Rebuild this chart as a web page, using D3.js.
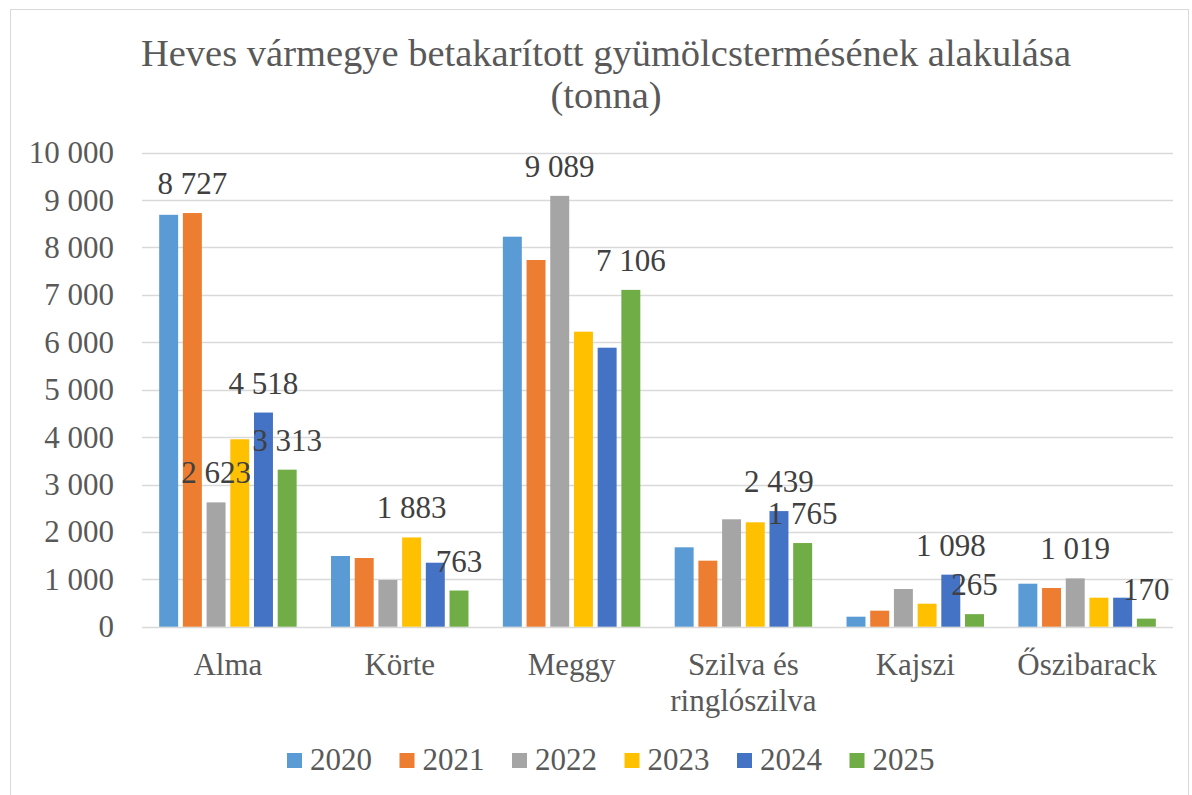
<!DOCTYPE html>
<meta charset="utf-8">
<head>
<script src="https://d3js.org/d3.v7.min.js"></script>
<style>
  body { margin: 0; background: #fff; }
</style>
</head>
<body>
<script>
"use strict";
// data
var categories = ["Alma", "Körte", "Meggy", "Szilva és ringlószilva", "Kajszi", "Őszibarack"];
var years = ["2020", "2021", "2022", "2023", "2024", "2025"];
var colors = ["#5B9BD5", "#ED7D31", "#A5A5A5", "#FFC000", "#4472C4", "#70AD47"];
var v2020 = [8690, 1492, 8228, 1675, 211, 907];
var v2021 = [8727, 1449, 7736, 1393, 338, 816];
var v2022 = [2623, 985, 9089, 2266, 795, 1019];
var v2023 = [3954, 1883, 6224, 2202, 485, 612];
var v2024 = [4518, 1350, 5886, 2439, 1098, 612];
var v2025 = [3313, 763, 7106, 1765, 265, 170];
// which bars carry a data label (category index, year index)
var labelled = [[0,1],[0,2],[0,4],[0,5],[1,3],[1,5],[2,2],[2,5],[3,4],[3,5],[4,4],[4,5],[5,2],[5,5]];
var yTicks = [0, 1000, 2000, 3000, 4000, 5000, 6000, 7000, 8000, 9000, 10000];
var title = ["Heves vármegye betakarított gyümölcstermésének alakulása", "(tonna)"];

var series = [v2020, v2021, v2022, v2023, v2024, v2025];

var width = 1192, height = 795;
var svg = d3.select("body").append("svg")
    .attr("width", width).attr("height", height)
    .attr("font-family", "'Liberation Serif', 'Times New Roman', Tinos, 'DejaVu Serif'");

svg.append("rect")
    .attr("x", 10.5).attr("y", 9.5)
    .attr("width", 1178).attr("height", 800)
    .attr("fill", "#fff").attr("stroke", "#d9d9d9");

var loc = d3.formatLocale({decimal: ",", thousands: "\u00a0", grouping: [3], currency: ["", ""]});
var fmt = loc.format(",d");

var y = d3.scaleLinear().domain([0, 10000]).range([626.7, 152.7]);
var x0 = d3.scaleBand().domain(categories).range([142, 1173]).paddingInner(0.2).paddingOuter(0.1);
var x1 = d3.scaleBand().domain(years).range([0, x0.bandwidth()]).paddingInner(0.2);

// gridlines
svg.append("g").selectAll("line").data(yTicks).enter().append("line")
    .attr("x1", 142).attr("x2", 1173)
    .attr("y1", d => Math.round(y(d)) + 0.5).attr("y2", d => Math.round(y(d)) + 0.5)
    .attr("stroke", "#d9d9d9").attr("stroke-width", 1.5);

// tick labels
svg.append("g").selectAll("text").data(yTicks).enter().append("text")
    .attr("x", 114).attr("y", d => y(d) + 10.5)
    .attr("text-anchor", "end")
    .attr("font-size", 31).attr("fill", "#595959")
    .text(d => fmt(d));

// bars
var groups = svg.append("g").selectAll("g").data(categories).enter().append("g")
    .attr("transform", d => "translate(" + x0(d) + ",0)");
groups.selectAll("rect")
    .data((c, ci) => years.map((yr, si) => ({yr: yr, si: si, v: series[si][ci]})))
    .enter().append("rect")
    .attr("x", d => x1(d.yr))
    .attr("width", x1.bandwidth())
    .attr("y", d => y(d.v))
    .attr("height", d => y(0) - y(d.v))
    .attr("fill", d => colors[d.si]);

// data labels
svg.append("g").selectAll("text").data(labelled).enter().append("text")
    .attr("x", d => x0(categories[d[0]]) + x1(years[d[1]]) + x1.bandwidth() / 2)
    .attr("y", d => y(series[d[1]][d[0]]) - 19)
    .attr("text-anchor", "middle")
    .attr("font-size", 31).attr("fill", "#404040")
    .text(d => fmt(series[d[1]][d[0]]));

// category labels
var catLines = {"Szilva és ringlószilva": ["Szilva és", "ringlószilva"]};
svg.append("g").selectAll("text").data(categories).enter().append("text")
    .attr("x", d => x0(d) + x0.bandwidth() / 2)
    .attr("y", 675)
    .attr("text-anchor", "middle")
    .attr("font-size", 31).attr("fill", "#595959")
    .each(function(d) {
      var lines = catLines[d] || [d];
      var t = d3.select(this);
      lines.forEach((l, i) => t.append("tspan")
        .attr("x", x0(d) + x0.bandwidth() / 2)
        .attr("dy", i ? 36 : 0).text(l));
    });

// title
svg.append("g").selectAll("text").data(title).enter().append("text")
    .attr("x", 606).attr("y", (d, i) => 66 + i * 42)
    .attr("text-anchor", "middle")
    .attr("font-size", 38.5).attr("fill", "#595959")
    .text(d => d);

// legend
var legend = svg.append("g").selectAll("g").data(years).enter().append("g")
    .attr("transform", (d, i) => "translate(" + (287 + i * 112.5) + ",0)");
legend.append("rect")
    .attr("x", 0).attr("y", 753).attr("width", 15).attr("height", 15)
    .attr("fill", (d, i) => colors[i]);
legend.append("text")
    .attr("x", 23).attr("y", 770)
    .attr("font-size", 31).attr("fill", "#595959")
    .text(d => d);
</script>
</body>
